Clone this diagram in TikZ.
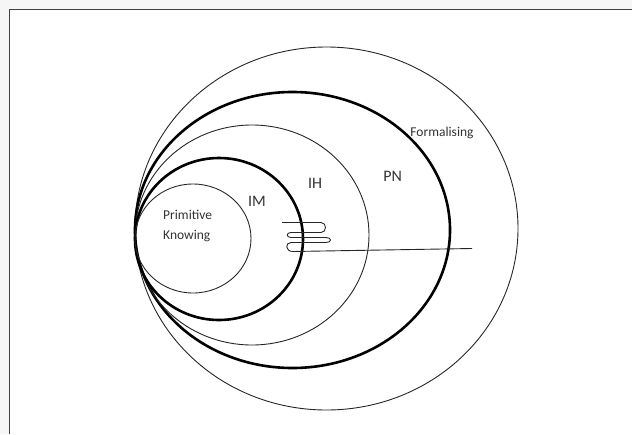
\documentclass[tikz,border=0pt]{standalone}
\usepackage{fontspec}
\setmainfont{Carlito}
\begin{document}
\begin{tikzpicture}[x=1pt,y=-1pt,
  thinring/.style={draw=black!85,line width=0.9pt},
  thickring/.style={draw=black,line width=2.6pt},
  lbl/.style={inner sep=0pt,text=black!80,font=\fontsize{16}{19}\selectfont},
  smalllbl/.style={inner sep=0pt,text=black!80,font=\fontsize{13.5}{20.5}\selectfont},
  frameline/.style={draw=black!75,line width=1.4pt}]
\useasboundingbox (0,0) rectangle (632,434);
\fill[gray!7] (0,0) rectangle (632,8.6);
\fill[gray!7] (0,0) rectangle (8.8,434);
\draw[frameline] (9.5,434) -- (9.5,9.3) -- (632,9.3);
% rings
\draw[thinring]  (326.5,228.5) ellipse [x radius=191.5, y radius=181.5];
\draw[thickring] (292.5,230)   ellipse [x radius=157.5, y radius=138];
\draw[thinring]  (252,235)     ellipse [x radius=117,   y radius=110];
\draw[thickring] (219,239)     ellipse [x radius=84,    y radius=81];
\draw[thinring]  (193,238.5)   ellipse [x radius=58,    y radius=54.5];
% coil and line
\coordinate (cs) at (282,222.5);
\coordinate (ce) at (472,248.5);
\draw[thinring] (cs) -- (321,222.5) .. controls (327,222.5) and (327,232.5) .. (321,232.5)
  -- (291,232.5) .. controls (286,232.5) and (286,237.5) .. (291,237.5)
  -- (326,237.5) .. controls (332,237.5) and (332,242.5) .. (326,242.5)
  -- (291,242.5) .. controls (285,242.5) and (285,251.5) .. (293,251.5) -- (ce);
% labels
\node[smalllbl,anchor=west,align=left] (pk) at (163,226) {Primitive\\Knowing};
\node[lbl] (im) at (257,201.7) {IM};
\node[lbl] (ih) at (315,183.3) {IH};
\node[lbl] (pn) at (392.7,176.7) {PN};
\node[smalllbl] (fo) at (442,132.7) {Formalising};
\end{tikzpicture}
\end{document}
